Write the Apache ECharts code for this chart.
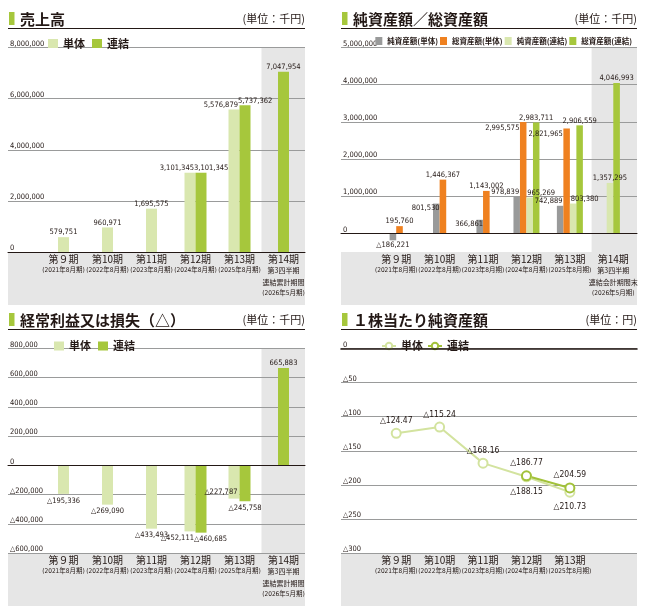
<!DOCTYPE html>
<html>
<head>
<meta charset="utf-8">
<script src="https://cdn.jsdelivr.net/npm/echarts@6/dist/echarts.min.js"></script>
<style>
html, body { margin: 0; padding: 0; background: #fff; }
.panel { position: absolute; width: 324px; height: 305px; }
</style>
</head>
<body>
<div id="sales" class="panel" style="left:0;top:0"></div>
<div id="assets" class="panel" style="left:324px;top:0"></div>
<div id="profit" class="panel" style="left:0;top:301px"></div>
<div id="bps" class="panel" style="left:324px;top:301px"></div>
<script>
// 決算期
const periods = ['第９期', '第10期', '第11期', '第12期', '第13期', '第14期'];
const periodEnds = ['(2021年8月期)', '(2022年8月期)', '(2023年8月期)', '(2024年8月期)', '(2025年8月期)', '(2026年5月期)'];
const q3Sales = ['第3四半期', '連結累計期間'];
const q3Assets = ['第3四半期', '連結会計期間末'];

// 売上高 (千円)
const salesSingle = [579751, 960971, 1695575, 3101345, 5576879, null];
const salesConsol = [null, null, null, 3101345, 5737362, 7047954];

// 純資産額／総資産額 (千円)
const netSingle = [-186221, 801530, 366861, 978839, 742889, null];
const totalSingle = [195760, 1446367, 1143002, 2995575, 2821965, null];
const netConsol = [null, null, null, 965269, 803380, 1357295];
const totalConsol = [null, null, null, 2983711, 2906559, 4046993];

// 経常利益又は損失 (千円)
const profitSingle = [-195336, -269090, -433493, -452111, -227787, null];
const profitConsol = [null, null, null, -460685, -245758, 665883];

// 1株当たり純資産額 (円)
const bpsSingle = [-124.47, -115.24, -168.16, -188.15, -210.73];
const bpsConsol = [null, null, null, -186.77, -204.59];

const W = 324, H = 305;
const TOP = 47.5, BASE = 252;
const INK = '#231815', RULE = '#9a9b9b', SHADE = '#e6e6e6';
const LIGHT = '#d9e7af', GREEN = '#a6c73c', ORANGE = '#ef8120', GREY = '#999a9a';
const LINE_LIGHT = '#d3e39f', LINE_GREEN = '#a2c23a';
const JP = "'Noto Sans CJK JP', sans-serif";
const NUM = "'Liberation Sans Narrow', 'DejaVu Sans Condensed', 'Noto Sans CJK JP', sans-serif";
const NUM_SIZE = 7.5;

const LEFT = { L: 8, R: 305, gl: 41.5, gr: 305.5 };
const RIGHT = { L: 17, R: 313, gl: 50.5, gr: 311 };

const fmt = v => (v < 0 ? '△' : '') + Math.abs(v).toLocaleString('en-US');
const fmt2 = v => (v < 0 ? '△' : '') + Math.abs(v).toFixed(2);

// 全系列がそろっている期 → 並べて表示
const pairMask = arrs => arrs[0].map((_, i) => arrs.every(a => a[i] != null));
function items (arr, mask, want, labelFn) {
    return arr.map((v, i) => {
        if (v == null || mask[i] !== want) return '-';
        return labelFn ? { value: v, label: labelFn(v, i) } : v;
    });
}

function lab (extra) {
    return Object.assign({
        show: true, color: INK, fontFamily: NUM, fontSize: NUM_SIZE, distance: 1,
        textBorderWidth: 0, formatter: p => fmt(p.value)
    }, extra);
}

function bar (name, data, color, axis, width, label, extra) {
    return Object.assign({
        type: 'bar', name: name, data: data, xAxisIndex: axis, yAxisIndex: 1,
        barWidth: width, barGap: '0%', itemStyle: { color: color }, label: label
    }, extra || {});
}

function catLabel (extra) {
    return {
        interval: 0, margin: 2, color: INK,
        formatter: (v, i) => {
            let rows = ['{a|' + v + '}'];
            if (i === 5 && extra) extra.forEach(t => rows.push('{c|' + t + '}'));
            rows.push('{b|' + periodEnds[i] + '}');
            return rows.join('\n');
        },
        rich: {
            a: { fontFamily: JP, fontSize: 10, lineHeight: 11, color: INK },
            c: { fontFamily: JP, fontSize: 7, lineHeight: 11.5, color: INK },
            b: { fontFamily: NUM, fontSize: 6.5, lineHeight: 11, color: INK }
        }
    };
}

function panel (p, o) {
    const n = o.cats.length;
    const bw = (p.gr - p.gl) / 6;
    const colX = p.gl + 5 * bw;
    let els = [
        { type: 'rect', z: -1, shape: { x: p.L, y: BASE, width: p.R - p.L, height: H - BASE }, style: { fill: SHADE } },
        { type: 'rect', shape: { x: p.L + 1, y: 12, width: 5.5, height: 13 }, style: { fill: GREEN } },
        { type: 'text', x: p.L + 12, y: 19.5, style: { text: o.title, font: "bold 15px 'Noto Sans CJK JP'", fill: INK, textAlign: 'left', align: 'left', textVerticalAlign: 'middle', verticalAlign: 'middle' } },
        { type: 'text', x: p.R, y: 19, style: { text: o.unit, font: "11px 'Noto Sans CJK JP'", fill: INK, textAlign: 'right', align: 'right', textVerticalAlign: 'middle', verticalAlign: 'middle' } },
        { type: 'line', shape: { x1: p.L, y1: 28.5, x2: p.R, y2: 28.5 }, style: { stroke: INK, lineWidth: 1.2 } }
    ];
    if (o.shade14) {
        els.push({ type: 'rect', z: -1, shape: { x: colX, y: TOP, width: p.R - colX, height: BASE - TOP }, style: { fill: SHADE } });
    }
    const yRange = { min: o.yMin, max: o.yMax, interval: o.yInterval };
    return {
        animation: false,
        textStyle: { fontFamily: JP },
        graphic: { elements: els },
        legend: Object.assign({
            icon: 'rect', itemWidth: 10, itemHeight: 9, itemGap: 7, top: 33,
            textStyle: { fontFamily: JP, fontSize: 11, fontWeight: 'bold', color: INK }
        }, o.legend),
        grid: [
            { left: p.L, right: W - p.R, top: TOP, bottom: H - BASE },
            { left: p.gl, right: W - (p.gl + n * bw), top: TOP, bottom: H - BASE }
        ],
        xAxis: [
            { gridIndex: 1, type: 'category', data: o.cats, axisLine: { show: false, onZero: false },
              axisTick: { show: false }, axisLabel: catLabel(o.extra) },
            { gridIndex: 1, type: 'category', data: o.cats, show: false },
            { gridIndex: 0, type: 'value', min: 0, max: 1, z: 5,
              axisLine: { show: true, onZero: true, lineStyle: { color: INK, width: o.zeroWidth || 1 } },
              axisTick: { show: false }, axisLabel: { show: false }, splitLine: { show: false } }
        ],
        yAxis: [
            Object.assign({ gridIndex: 0, type: 'value', axisLine: { show: false }, axisTick: { show: false },
              splitLine: { lineStyle: { color: o.ruleColors || RULE, width: 1 } },
              axisLabel: { inside: true, margin: 2, verticalAlign: 'bottom', color: INK, fontFamily: NUM,
                           fontSize: NUM_SIZE, formatter: o.yFmt } }, yRange),
            Object.assign({ gridIndex: 1, type: 'value', show: false }, yRange)
        ],
        series: o.series
    };
}

// 売上高
const salesPair = pairMask([salesSingle, salesConsol]);
const salesChart = echarts.init(document.getElementById('sales'));
salesChart.setOption(panel(LEFT, {
    title: '売上高', unit: '(単位：千円)', cats: periods, extra: q3Sales, shade14: true,
    yMin: 0, yMax: 8000000, yInterval: 2000000, yFmt: v => fmt(v),
    legend: { left: 43, data: ['単体', '連結'] },
    series: [
        bar('単体', items(salesSingle, salesPair, true), LIGHT, 0, 11, lab({ position: 'top', align: 'right', offset: [4, 0] })),
        bar('連結', items(salesConsol, salesPair, true), GREEN, 0, 11, lab({ position: 'top', align: 'left', offset: [-7, 0] })),
        bar('単体', items(salesSingle, salesPair, false), LIGHT, 1, 11, lab({ position: 'top' }), { stack: 'one' }),
        bar('連結', items(salesConsol, salesPair, false), GREEN, 1, 11, lab({ position: 'top' }), { stack: 'one' })
    ]
}));

// 純資産額／総資産額
const assetPair = pairMask([netSingle, totalSingle, netConsol, totalConsol]);
const assetNames = ['純資産額(単体)', '総資産額(単体)', '純資産額(連結)', '総資産額(連結)'];
const assetChart = echarts.init(document.getElementById('assets'));
assetChart.setOption(panel(RIGHT, {
    title: '純資産額／総資産額', unit: '(単位：千円)', cats: periods, extra: q3Assets, shade14: true,
    yMin: -500000, yMax: 5000000, yInterval: 500000,
    yFmt: v => (v % 1000000 === 0 ? fmt(v) : ''),
    ruleColors: ['rgba(0,0,0,0)', RULE],
    legend: { right: W - RIGHT.R, left: null, top: 32, itemWidth: 7, itemHeight: 8, itemGap: 2,
              textStyle: { fontFamily: JP, fontSize: 7.5, fontWeight: 'bold', color: INK }, data: assetNames },
    series: [
        bar(assetNames[0], items(netSingle, assetPair, true), GREY, 0, 6.5, lab({ position: 'top', align: 'right', offset: [2.5, 0] })),
        bar(assetNames[1], items(totalSingle, assetPair, true), ORANGE, 0, 6.5, lab({ position: [-0.5, 2], align: 'right', verticalAlign: 'top' })),
        bar(assetNames[2], items(netConsol, assetPair, true), LIGHT, 0, 6.5, lab({ position: 'top', align: 'left', offset: [-2.5, 0] })),
        bar(assetNames[3], items(totalConsol, assetPair, true), GREEN, 0, 6.5, lab({ position: 'top' })),
        bar(assetNames[0], items(netSingle, assetPair, false, v => (v < 0
            ? { position: 'bottom', distance: 1 }
            : { position: 'insideTop', distance: 1, align: 'right', offset: [3.3, 0] })), GREY, 1, 6.6, lab({}), { stack: 'left' }),
        bar(assetNames[1], items(totalSingle, assetPair, false), ORANGE, 1, 6.6, lab({ position: 'top' }), { stack: 'right' }),
        bar(assetNames[2], items(netConsol, assetPair, false), LIGHT, 1, 6.6, lab({ position: 'top' }), { stack: 'left' }),
        bar(assetNames[3], items(totalConsol, assetPair, false), GREEN, 1, 6.6, lab({ position: 'top' }), { stack: 'right' })
    ]
}));

// 経常利益又は損失
const profitPair = pairMask([profitSingle, profitConsol]);
const profitChart = echarts.init(document.getElementById('profit'));
profitChart.setOption(panel(LEFT, {
    title: '経常利益又は損失（△）', unit: '(単位：千円)', cats: periods, extra: q3Sales, shade14: true,
    yMin: -600000, yMax: 800000, yInterval: 200000, yFmt: v => fmt(v),
    legend: { left: 49, top: 34.5, data: ['単体', '連結'] },
    series: [
        bar('単体', items(profitSingle, profitPair, true, (v, i) => (i === 4
            ? { position: 'insideBottom', align: 'right', offset: [3.5, 0], distance: 3 }
            : { position: 'bottom', align: 'right', offset: [4, 0], distance: 3 })), LIGHT, 0, 11, lab({})),
        bar('連結', items(profitConsol, profitPair, true, (v, i) => (i === 4
            ? { position: 'bottom', distance: 3 }
            : { position: 'bottom', align: 'left', offset: [-7, 0], distance: 3 })), GREEN, 0, 11, lab({})),
        bar('単体', items(profitSingle, profitPair, false, v => ({ position: v < 0 ? 'bottom' : 'top', distance: v < 0 ? 3 : 1 })),
            LIGHT, 1, 11, lab({}), { stack: 'one' }),
        bar('連結', items(profitConsol, profitPair, false, v => ({ position: v < 0 ? 'bottom' : 'top', distance: v < 0 ? 3 : 1 })),
            GREEN, 1, 11, lab({}), { stack: 'one' })
    ]
}));

// 1株当たり純資産額
const bpsLabel = { show: true, color: INK, fontFamily: NUM, fontSize: 8.5, textBorderWidth: 0, formatter: p => fmt2(p.value) };
const bpsChart = echarts.init(document.getElementById('bps'));
bpsChart.setOption(panel(RIGHT, {
    title: '１株当たり純資産額', unit: '(単位：円)', cats: periods.slice(0, 5), shade14: false,
    yMin: -300, yMax: 0, yInterval: 50, zeroWidth: 1.6,
    yFmt: v => (v === 0 ? '0' : '△' + Math.abs(v)),
    legend: { left: 52, top: 34.5, itemWidth: 14, itemHeight: 8, itemGap: 4, icon: null, data: ['単体', '連結'] },
    series: [
        {
            type: 'line', name: '単体', xAxisIndex: 0, yAxisIndex: 1,
            data: bpsSingle.map((v, i) => ({ value: v, label: bpsConsol[i] == null ? { position: 'top', distance: 3 } : { position: 'bottom', distance: 5 } })),
            symbol: 'emptyCircle', symbolSize: 9,
            lineStyle: { color: LINE_LIGHT, width: 2 }, itemStyle: { color: LINE_LIGHT, borderWidth: 1.6 },
            label: bpsLabel
        },
        {
            type: 'line', name: '連結', xAxisIndex: 0, yAxisIndex: 1,
            data: bpsConsol.map(v => (v == null ? '-' : v)),
            symbol: 'emptyCircle', symbolSize: 9,
            lineStyle: { color: LINE_GREEN, width: 2 }, itemStyle: { color: LINE_GREEN, borderWidth: 1.6 },
            label: Object.assign({ position: 'top', distance: 3 }, bpsLabel)
        }
    ]
}));
</script>
</body>
</html>
